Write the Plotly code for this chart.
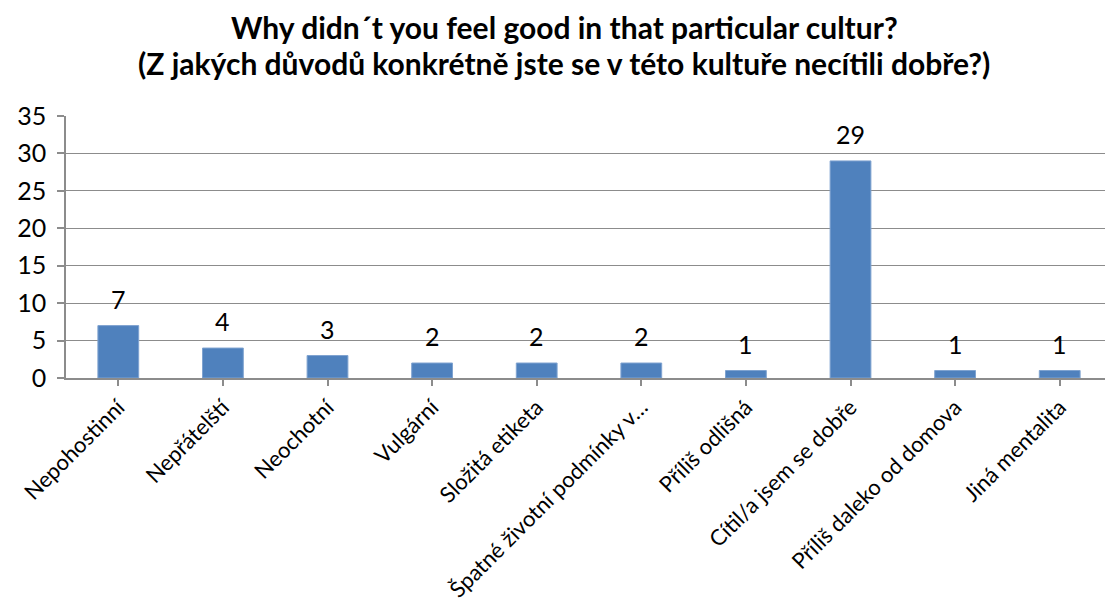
import plotly.graph_objects as go

categories = [
    "Nepohostinní",
    "Nepřátelští",
    "Neochotní",
    "Vulgární",
    "Složitá etiketa",
    "Špatné životní podmínky v…",
    "Příliš odlišná",
    "Cítil/a jsem se dobře",
    "Příliš daleko od domova",
    "Jiná mentalita",
]
counts = [7, 4, 3, 2, 2, 2, 1, 29, 1, 1]

title_lines = [
    "Why didn´t you feel good in that particular cultur?",
    "(Z jakých důvodů konkrétně jste se v této kultuře necítili dobře?)",
]

FONT = "Lato"
BAR = "#4F81BD"
GRID = "#8C8C8C"

LEFT, RIGHT = 66, 1105   # plot area edges in pixels
TOP, BOTTOM = 116, 378
PLOT_W = RIGHT - LEFT
PLOT_H = BOTTOM - TOP

fig = go.Figure(
    go.Bar(
        x=list(range(len(categories))),
        y=counts,
        width=0.39,
        marker=dict(color=BAR, line=dict(color="#7FA3D0", width=1)),
        hoverinfo="skip",
    )
)

# value labels above each bar
for i, v in enumerate(counts):
    fig.add_annotation(
        x=i, y=v, text=str(v), showarrow=False,
        yanchor="bottom", yshift=10,
        font=dict(family=FONT, size=25, color="#000000"),
    )

# two-line bold title, each line placed separately
for line, py in zip(title_lines, [27, 63]):
    fig.add_annotation(
        xref="paper", yref="paper",
        x=(564 - LEFT) / PLOT_W, y=(BOTTOM - py) / PLOT_H,
        xanchor="center", yanchor="middle",
        text=f"<b>{line}</b>", showarrow=False,
        font=dict(family=FONT, size=30, color="#000000"),
    )

fig.update_layout(
    width=1105, height=613,
    margin=dict(l=LEFT, r=1105 - RIGHT, t=TOP, b=613 - BOTTOM, autoexpand=False),
    paper_bgcolor="white", plot_bgcolor="white",
    showlegend=False,
)

fig.update_xaxes(
    range=[-0.5, 9.433],
    tickmode="array",
    tickvals=list(range(len(categories))),
    ticktext=categories,
    tickangle=-45,
    tickson="boundaries",
    ticks="outside", ticklen=6, tickcolor=GRID, tickwidth=1.5,
    showline=True, linecolor=GRID, linewidth=1.5,
    showgrid=False, zeroline=False,
    tickfont=dict(family=FONT, size=22, color="#000000"),
)

fig.update_yaxes(
    range=[0, 35],
    dtick=5, tick0=0,
    ticks="outside", ticklen=7, tickcolor=GRID, tickwidth=1.5,
    showline=True, linecolor=GRID, linewidth=1.5,
    showgrid=True, gridcolor=GRID, gridwidth=1.2,
    zeroline=False,
    tickfont=dict(family=FONT, size=25, color="#000000"),
    ticklabelstandoff=6,
)

fig.write_html("out.html")
